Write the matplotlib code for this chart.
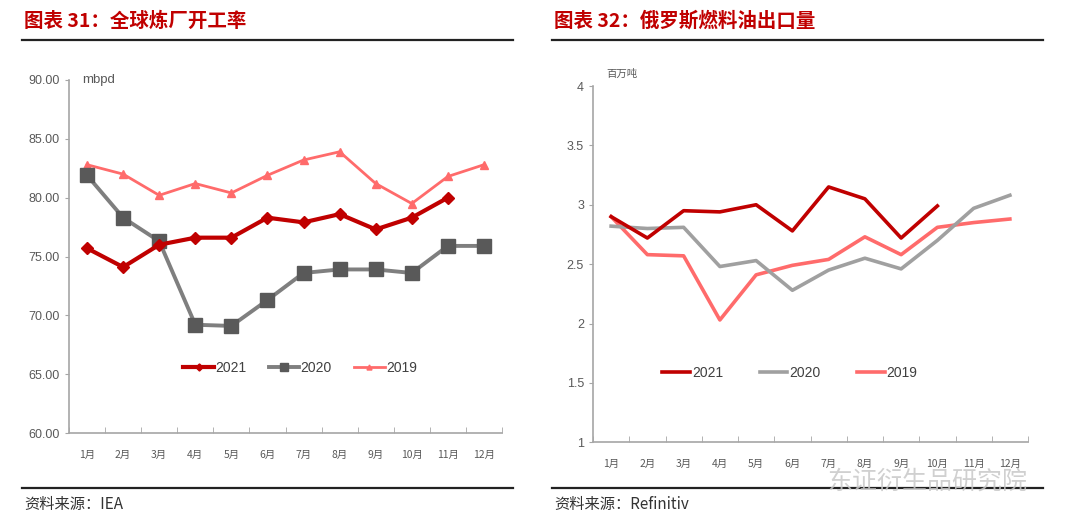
import matplotlib
matplotlib.use("Agg")
import matplotlib.pyplot as plt
from matplotlib.lines import Line2D
import numpy as np

plt.rcParams['font.family'] = ['Noto Sans CJK SC', 'DejaVu Sans']

months = ["1月", "2月", "3月", "4月", "5月", "6月", "7月", "8月", "9月", "10月", "11月", "12月"]

# Chart 31: global refinery runs (mbpd)
runs_2021 = [75.7, 74.1, 76.0, 76.6, 76.6, 78.3, 77.9, 78.6, 77.3, 78.3, 80.0]
runs_2020 = [81.9, 78.3, 76.3, 69.2, 69.1, 71.3, 73.6, 73.9, 73.9, 73.6, 75.9, 75.9]
runs_2019 = [82.8, 82.0, 80.2, 81.2, 80.4, 81.9, 83.2, 83.9, 81.2, 79.5, 81.8, 82.8]
left_yticks = [60, 65, 70, 75, 80, 85, 90]

# Chart 32: Russian fuel oil exports (million tonnes)
fo_2021 = [2.90, 2.72, 2.95, 2.94, 3.00, 2.78, 3.15, 3.05, 2.72, 2.99]
fo_2020 = [2.82, 2.80, 2.81, 2.48, 2.53, 2.28, 2.45, 2.55, 2.46, 2.70, 2.97, 3.08]
fo_2019 = [2.90, 2.58, 2.57, 2.03, 2.41, 2.49, 2.54, 2.73, 2.58, 2.81, 2.85, 2.88]
right_yticks = [1, 1.5, 2, 2.5, 3, 3.5, 4]
right_yticklabels = ["1", "1.5", "2", "2.5", "3", "3.5", "4"]

W, H = 1080, 526
fig = plt.figure(figsize=(W / 100, H / 100), dpi=100)

def fx(px):
    return px / W

def fy(py):
    return 1 - py / H

narrow = ['Liberation Sans Narrow', 'Liberation Sans', 'DejaVu Sans']
axis_gray = '#A6A6A6'
text_gray = '#595959'
title_red = '#C00000'

def style_axes(ax, ylim, yticks, yticklabels):
    n = len(months)
    ax.set_xlim(-0.5, n - 0.5)
    ax.set_ylim(*ylim)
    for s in ['top', 'right']:
        ax.spines[s].set_visible(False)
    for s in ['left', 'bottom']:
        ax.spines[s].set_color(axis_gray)
        ax.spines[s].set_linewidth(1.2)
    ax.set_xticks(np.arange(n))
    ax.set_xticklabels(months, fontsize=7.5, color=text_gray)
    ax.set_xticks(np.arange(n + 1) - 0.5, minor=True)
    ax.tick_params(axis='x', which='major', length=0, pad=12)
    ax.tick_params(axis='x', which='minor', length=4, color=axis_gray, direction='in')
    ax.set_yticks(yticks)
    ax.set_yticklabels(yticklabels, fontsize=9, color=text_gray, family=narrow)
    ax.tick_params(axis='y', length=3, color=axis_gray, direction='out')
    ax.set_facecolor('none')

# ---- Left chart
ax1 = fig.add_axes([fx(69), fy(433), fx(502 - 69), (433 - 80) / H])
x = np.arange(len(months))
ax1.plot(x[:len(runs_2019)], runs_2019, color='#FF6B6B', lw=2, marker='^', ms=6,
         markerfacecolor='#FF6B6B', markeredgecolor='#FF6B6B', label='2019', zorder=2)
ax1.plot(x[:len(runs_2020)], runs_2020, color='#7F7F7F', lw=2.8, marker='s', ms=10,
         markerfacecolor='#595959', markeredgecolor='#595959', label='2020', zorder=3)
ax1.plot(x[:len(runs_2021)], runs_2021, color='#C00000', lw=3, marker='D', ms=6,
         markerfacecolor='#C00000', markeredgecolor='#C00000', label='2021', zorder=4)
style_axes(ax1, (60, 90), left_yticks, ["%.2f" % v for v in left_yticks])
ax1.text(0.03, 1.0, "mbpd", transform=ax1.transAxes, fontsize=9.5, color=text_gray,
         family=narrow, va='center', ha='left')
h, l = ax1.get_legend_handles_labels()
order = [2, 1, 0]
leg1 = ax1.legend([h[i] for i in order], [l[i] for i in order], loc='center',
                  bbox_to_anchor=((300 - 69) / (502 - 69), (433 - 368) / (433 - 80)),
                  ncol=3, frameon=False, handlelength=2.2, handletextpad=0.1,
                  columnspacing=1.6, markerscale=0.6, prop={'family': narrow, 'size': 10})
for t in leg1.get_texts():
    t.set_color('#404040')

# ---- Right chart
ax2 = fig.add_axes([fx(593), fy(442.3), fx(1028 - 593), (442.3 - 86) / H])
ax2.plot(x[:len(fo_2021)], fo_2021, color='#C00000', lw=2.6, label='2021', zorder=4)
ax2.plot(x[:len(fo_2020)], fo_2020, color='#A0A0A0', lw=2.6, label='2020', zorder=3)
ax2.plot(x[:len(fo_2019)], fo_2019, color='#FF6B6B', lw=2.6, label='2019', zorder=2)
style_axes(ax2, (1, 4), right_yticks, right_yticklabels)
ax2.text(0.03, 1.02, "百万吨", transform=ax2.transAxes, fontsize=7.5, color=text_gray,
         va='bottom', ha='left')
leg2 = ax2.legend(loc='center',
                  bbox_to_anchor=((790 - 593) / (1028 - 593), (442.3 - 373) / (442.3 - 86)),
                  ncol=3, frameon=False, handlelength=2.0, handletextpad=0.15,
                  columnspacing=2.6, prop={'family': narrow, 'size': 10})
for t in leg2.get_texts():
    t.set_color('#404040')

# ---- Titles, rules and sources
fig.text(fx(24), fy(21), "图表 31：全球炼厂开工率", fontsize=14, fontweight='bold',
         color=title_red, va='center', ha='left')
fig.text(fx(554), fy(21), "图表 32：俄罗斯燃料油出口量", fontsize=14, fontweight='bold',
         color=title_red, va='center', ha='left')
for (a, b) in [(22, 513), (552, 1043)]:
    fig.add_artist(Line2D([fx(a), fx(b)], [fy(40), fy(40)], color='#222222', lw=1.6))
    fig.add_artist(Line2D([fx(a), fx(b)], [fy(488), fy(488)], color='#222222', lw=1.6))
fig.text(fx(24), fy(505), "资料来源：IEA", fontsize=11, color='#333333', va='center',
         ha='left', family=['Noto Sans CJK SC', 'Liberation Serif'])
fig.text(fx(554), fy(505), "资料来源：Refinitiv", fontsize=11, color='#333333',
         va='center', ha='left', family=['Noto Sans CJK SC', 'Liberation Serif'])

# watermark
fig.text(fx(827), fy(482), "东证衍生品研究院", fontsize=18, color='#C8C8C8', alpha=0.85,
         va='center', ha='left', zorder=10)

fig.savefig("out.png", dpi=100, facecolor='white')
